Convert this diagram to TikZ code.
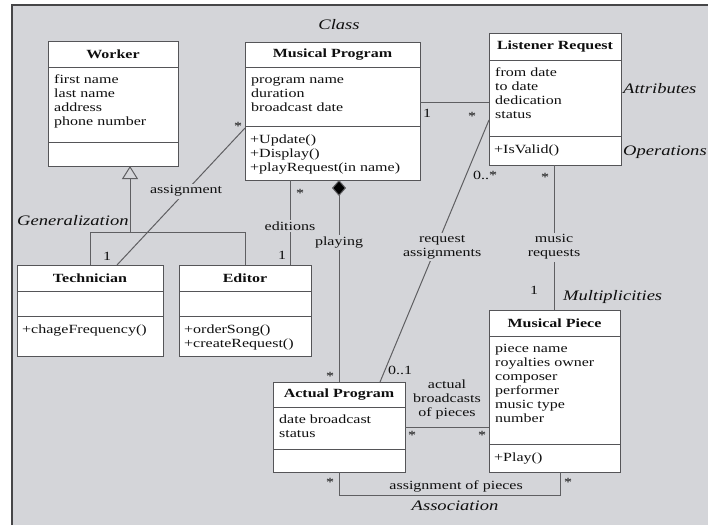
\documentclass[tikz,border=0pt]{standalone}
\usepackage{fontspec}
\setmainfont{Liberation Serif}[FakeStretch=1.28]
\usetikzlibrary{arrows.meta,calc}
\definecolor{bg}{RGB}{212,213,217}
\definecolor{framecol}{RGB}{70,70,72}
\definecolor{boxline}{RGB}{85,85,88}
\definecolor{wirecol}{RGB}{95,95,98}
\definecolor{ink}{RGB}{15,15,15}

% class box: name, left, top, right, bottom, first divider, second divider
\newcommand\classbox[7]{%
  \node[classframe, minimum width={#4-#2}, minimum height={#5-#3}] (#1) at (#2,#3) {};
  \draw[divider] (#1.west |- 0,#6) -- (#1.east |- 0,#6);
  \draw[divider] (#1.west |- 0,#7) -- (#1.east |- 0,#7);
  \coordinate (#1-h) at ({(#2+#4)/2},{(#3+#6)/2});
  \coordinate (#1-a) at ({#2+6},{#6+6.7});
  \coordinate (#1-o) at ({#2+5},{#7+7.2});
}

\begin{document}
\begin{tikzpicture}[x=1pt,y=-1pt, font=\fontsize{12.5}{14}\selectfont, text=ink,
  classframe/.style={draw=boxline, fill=white, line width=0.9pt, anchor=north west, inner sep=0pt, outer sep=0pt},
  divider/.style={draw=boxline, line width=0.9pt},
  classtitle/.style={font=\fontsize{12.5}{14}\selectfont\bfseries, inner sep=0pt},
  members/.style={anchor=north west, align=left, inner sep=0pt},
  wire/.style={draw=wirecol, line width=1pt},
  lbl/.style={fill=bg, inner sep=2pt, align=center},
  mult/.style={inner sep=0pt, anchor=base},
  note/.style={font=\fontsize{14.5}{16}\selectfont\itshape, inner sep=0pt},
]
\useasboundingbox (0,0) rectangle (708,525);
\fill[bg] (12,5) rectangle (708,525);
\draw[framecol, line width=1.6pt] (12,525) -- (12,5) -- (708,5);

% classes
\classbox{worker}{48}{41}{178}{166}{67}{142}
\node[classtitle] (worker-title) at (worker-h) {Worker};
\node[members] (worker-attr) at (worker-a) {\strut first name\\last name\\address\\phone number};

\classbox{mprog}{245}{42}{420}{180}{67}{126}
\node[classtitle] (mprog-title) at (mprog-h) {Musical Program};
\node[members] (mprog-attr) at (mprog-a) {\strut program name\\duration\\broadcast date};
\node[members] (mprog-ops) at (mprog-o) {\strut +Update()\\+Display()\\+playRequest(in name)};

\classbox{listener}{489}{33}{621}{165}{60}{136}
\node[classtitle] (listener-title) at (listener-h) {Listener Request};
\node[members] (listener-attr) at (listener-a) {\strut from date\\to date\\dedication\\status};
\node[members] (listener-ops) at (listener-o) {\strut +IsValid()};

\classbox{technician}{17}{265}{163}{356}{291}{316}
\node[classtitle] (technician-title) at (technician-h) {Technician};
\node[members] (technician-ops) at (technician-o) {\strut +chageFrequency()};

\classbox{editor}{179}{265}{311}{356}{291}{316}
\node[classtitle] (editor-title) at (editor-h) {Editor};
\node[members] (editor-ops) at (editor-o) {\strut +orderSong()\\+createRequest()};

\classbox{actual}{273}{382}{405}{472}{407}{449}
\node[classtitle] (actual-title) at (actual-h) {Actual Program};
\node[members] (actual-attr) at (actual-a) {\strut date broadcast\\status};

\classbox{piece}{489}{310}{620}{472}{336}{444}
\node[classtitle] (piece-title) at (piece-h) {Musical Piece};
\node[members] (piece-attr) at (piece-a) {\strut piece name\\royalties owner\\composer\\performer\\music type\\number};
\node[members] (piece-ops) at (piece-o) {\strut +Play()};

% generalization
\coordinate (genjoin) at (130,232);
\draw[wire, -{Triangle[open, length=13pt, width=16pt, line width=1pt]}]
  (technician.north) |- (genjoin) -- (genjoin |- worker.south);
\draw[wire] (editor.north) |- (genjoin);

% associations
\draw[wire] ($(mprog.north west)+(0,86)$) -- node[lbl, pos=0.46] (assignlbl) {assignment} ($(technician.north west)+(100,0)$);
\draw[wire] ($(mprog.south west)+(45,0)$) -- node[lbl, pos=0.54] (editionslbl) {editions} ($(editor.north west)+(111,0)$);
\draw[wire, {Diamond[length=16pt, width=14pt, fill=black]}-] ($(mprog.south west)+(94,0)$) -- node[lbl, pos=0.31] (playinglbl) {playing} ($(actual.north west)+(66,0)$);
\draw[wire] (mprog.east |- 0,102) -- (listener.west |- 0,102);
\draw[wire] ($(listener.north west)+(0,87)$) -- node[lbl, pos=0.485, xshift=6pt] (reqlbl) {request\\assignments} ($(actual.north west)+(107,0)$);
\draw[wire] ($(listener.south west)+(65,0)$) -- node[lbl, pos=0.566] (musiclbl) {music\\requests} ($(piece.north west)+(65,0)$);
\draw[wire] (actual.east |- 0,427) -- node[above=7pt, align=center, inner sep=0pt] (bcastlbl) {actual\\broadcasts\\of pieces} (piece.west |- 0,427);
\draw[wire] ($(actual.south west)+(66,0)$) |- node[pos=0.765, above=2pt, inner sep=0pt] (pieceslbl) {assignment of pieces} ($(piece.south west)+(71,23)$) -- ($(piece.south west)+(71,0)$);

% multiplicities
\node[mult] (m1) at (238,130.5) {*};
\node[mult] (m2) at (107,260) {1};
\node[mult] (m3) at (300,197.5) {*};
\node[mult] (m4) at (282,259) {1};
\node[mult] (m5) at (330,380.5) {*};
\node[mult] (m6) at (427,117) {1};
\node[mult] (m7) at (472,120.5) {*};
\node[mult] (m8) at (485,179) {0..*};
\node[mult] (m9) at (400,374) {0..1};
\node[mult] (m10) at (545,181.5) {*};
\node[mult] (m11) at (534,294) {1};
\node[mult] (m12) at (412,439) {*};
\node[mult] (m13) at (482,439) {*};
\node[mult] (m14) at (330,486.5) {*};
\node[mult] (m15) at (568,486.5) {*};

% notes
\node[note] (n-class) at (339,25) {Class};
\node[note, anchor=west] (n-attr) at (623,89) {Attributes};
\node[note, anchor=west] (n-ops) at (623,152) {Operations};
\node[note, anchor=west] (n-gen) at (17,221) {Generalization};
\node[note, anchor=west] (n-mult) at (563,297) {Multiplicities};
\node[note] (n-assoc) at (455,506) {Association};
\end{tikzpicture}
\end{document}
